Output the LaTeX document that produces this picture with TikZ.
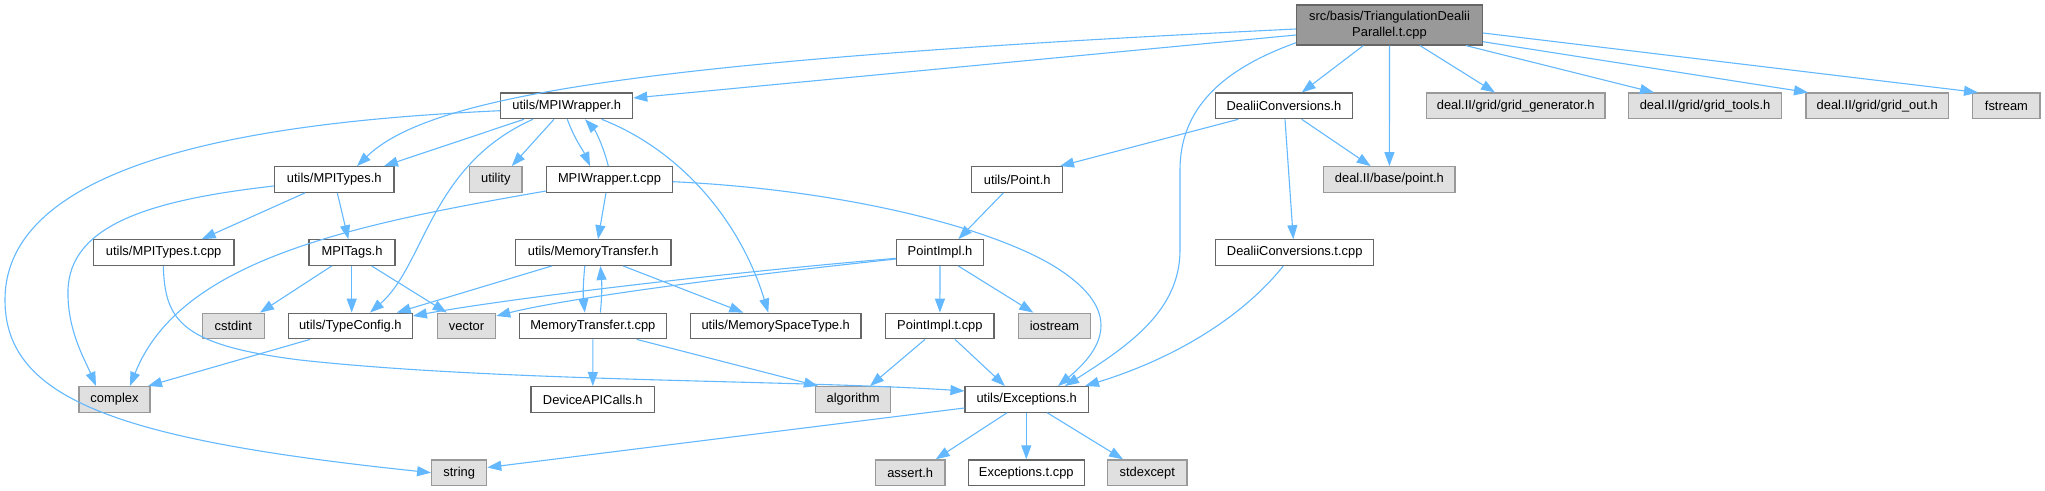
\documentclass[tikz,border=0pt]{standalone}
\usepackage{fontspec}
\setmainfont{Liberation Sans}
\usetikzlibrary{arrows.meta}
\definecolor{edgecol}{HTML}{63B8FF}
\definecolor{boxborder}{HTML}{666666}
\definecolor{extfill}{HTML}{E0E0E0}
\definecolor{extborder}{HTML}{999999}
\definecolor{mainfill}{HTML}{999999}
\begin{document}
\begin{tikzpicture}[x=1bp,y=-1bp,
  box/.style={draw=boxborder, fill=white, line width=1.2bp, minimum height=25.6bp, inner sep=0pt,
    font=\fontsize{12.9bp}{15.5bp}\selectfont},
  ext/.style={box, draw=extborder, fill=extfill},
  dep/.style={draw=edgecol, line width=1.1bp, -{Triangle[length=14bp,width=10bp]}},
]
\useasboundingbox (0,0) rectangle (2045,491);

% nodes
\node[box, fill=mainfill, minimum width=185.6bp, minimum height=40bp, align=center] (main) at (1389.5,25) {src/basis/TriangulationDealii\\Parallel.t.cpp};
\node[box, minimum width=132bp] (W) at (566.7,105.9) {utils/MPIWrapper.h};
\node[box, minimum width=136.6bp] (DC) at (1284,105.9) {DealiiConversions.h};
\node[ext, minimum width=178.7bp] (GG) at (1515.7,105.9) {deal.II/grid/grid\_generator.h};
\node[ext, minimum width=152.5bp] (GT) at (1705,105.9) {deal.II/grid/grid\_tools.h};
\node[ext, minimum width=142.5bp] (GO) at (1877.3,105.9) {deal.II/grid/grid\_out.h};
\node[ext, minimum width=67.3bp] (FS) at (2006.4,105.9) {fstream};
\node[box, minimum width=119.5bp] (Ty) at (334.3,179.5) {utils/MPITypes.h};
\node[ext, minimum width=52.4bp] (UT) at (495.8,179.5) {utility};
\node[box, minimum width=125.6bp] (T) at (609.5,179.5) {MPIWrapper.t.cpp};
\node[box, minimum width=91bp] (Pt) at (1017.2,179.5) {utils/Point.h};
\node[ext, minimum width=131.3bp] (BP) at (1389.4,179.5) {deal.II/base/point.h};
\node[box, minimum width=140.7bp] (TT) at (163.7,252.6) {utils/MPITypes.t.cpp};
\node[box, minimum width=86bp] (Tg) at (352,252.6) {MPITags.h};
\node[box, minimum width=155.3bp] (MT) at (593.3,252.6) {utils/MemoryTransfer.h};
\node[box, minimum width=86.6bp] (PI) at (940,252.6) {PointImpl.h};
\node[box, minimum width=158bp] (DCt) at (1294.7,252.6) {DealiiConversions.t.cpp};
\node[ext, minimum width=62bp] (CS) at (233.3,326) {cstdint};
\node[box, minimum width=124bp] (TC) at (350.3,326) {utils/TypeConfig.h};
\node[ext, minimum width=58.4bp] (VE) at (466.5,326) {vector};
\node[box, minimum width=147.2bp] (MTt) at (592.9,326) {MemoryTransfer.t.cpp};
\node[box, minimum width=170.7bp] (MS) at (775.7,326) {utils/MemorySpaceType.h};
\node[box, minimum width=108.3bp] (PIt) at (939.9,326) {PointImpl.t.cpp};
\node[ext, minimum width=72.4bp] (IO) at (1054.5,326) {iostream};
\node[ext, minimum width=71bp] (CX) at (114.5,399.4) {complex};
\node[box, minimum width=123.5bp] (DA) at (592.8,399.4) {DeviceAPICalls.h};
\node[ext, minimum width=75bp] (AL) at (853.2,399.4) {algorithm};
\node[box, minimum width=123.3bp] (EX) at (1026.7,399.4) {utils/Exceptions.h};
\node[ext, minimum width=55bp] (ST) at (459.2,472.7) {string};
\node[ext, minimum width=69.6bp] (AS) at (910.2,472.7) {assert.h};
\node[box, minimum width=116bp] (ET) at (1026.3,472.7) {Exceptions.t.cpp};
\node[ext, minimum width=79.4bp] (SE) at (1147.3,472.7) {stdexcept};

% main
\draw[dep] (main.west |- 0,35) -- (W.east |- 0,98);
\draw[dep] (main.west |- 0,29) .. controls (650,60) and (430,95) .. (357,0 |- Ty.north);
\draw[dep] (main.west |- 0,42.7) .. controls (1220,70) and (1180,110) .. (1180,170) -- (1180,250) .. controls (1180,310) and (1130,345) .. (1065,0 |- EX.north);
\draw[dep] (1363.3,0 |- main.south) -- (1301.7,0 |- DC.north);
\draw[dep] (main.south) -- (BP.north);
\draw[dep] (1420,0 |- main.south) -- (1495,0 |- GG.north);
\draw[dep] (1466,0 |- main.south) -- (1654,0 |- GT.north);
\draw[dep] (main.east |- 0,41.7) -- (1808,0 |- GO.north);
\draw[dep] (main.east |- 0,33) -- (1978,0 |- FS.north);

% MPIWrapper.h
\draw[dep] (W.west |- 0,110.7) .. controls (300,120) and (5,150) .. (5,300) .. controls (5,400) and (120,440) .. (ST.west);
\draw[dep] (524,0 |- W.south) -- (384,0 |- Ty.north);
\draw[dep] (533,0 |- W.south) .. controls (430,165) and (425,265) .. (370,0 |- TC.north);
\draw[dep] (554,0 |- W.south) -- (511.7,0 |- UT.north);
\draw[dep] (567.3,0 |- W.south) .. controls (575,140) and (583,150) .. (590,0 |- T.north);
\draw[dep] (608.3,0 |- T.north) .. controls (603,145) and (595,130) .. (585,0 |- W.south);
\draw[dep] (601.7,0 |- W.south) .. controls (680,150) and (740,220) .. (768.3,0 |- MS.north);

% MPIWrapper.t.cpp
\draw[dep] (T.west |- 0,191) .. controls (350,225) and (180,260) .. (130,0 |- CX.north);
\draw[dep] (606,0 |- T.south) -- (598,0 |- MT.north);
\draw[dep] (T.east |- 0,181.7) .. controls (850,190) and (1000,230) .. (1060,270) .. controls (1105,300) and (1120,335) .. (1058,0 |- EX.north);

% MPITypes.h
\draw[dep] (Ty.west |- 0,186) .. controls (150,200) and (70,225) .. (68,290) .. controls (67,330) and (85,360) .. (96,0 |- CX.north);
\draw[dep] (305,0 |- Ty.south) -- (201.7,0 |- TT.north);
\draw[dep] (337.3,0 |- Ty.south) -- (348.3,0 |- Tg.north);

% MPITypes.t.cpp
\draw[dep] (163.3,0 |- TT.south) .. controls (165,320) and (180,345) .. (300,360) .. controls (500,382) and (800,380) .. (EX.west |- 0,391);

% MPITags.h
\draw[dep] (331.7,0 |- Tg.south) -- (260,0 |- CS.north);
\draw[dep] (351.7,0 |- Tg.south) -- (351.7,0 |- TC.north);
\draw[dep] (371.7,0 |- Tg.south) -- (446.7,0 |- VE.north);

% MemoryTransfer.h
\draw[dep] (551.7,0 |- MT.south) -- (396.7,0 |- TC.north);
\draw[dep] (584.8,0 |- MT.south) .. controls (583,285) and (583,295) .. (584.8,0 |- MTt.north);
\draw[dep] (600.4,0 |- MTt.north) .. controls (602,295) and (602,285) .. (600.4,0 |- MT.south);
\draw[dep] (623.3,0 |- MT.south) -- (743.3,0 |- MS.north);

% MemoryTransfer.t.cpp
\draw[dep] (MTt.south) -- (DA.north);
\draw[dep] (636.7,0 |- MTt.south) -- (818,0 |- AL.north);

% TypeConfig.h
\draw[dep] (310,0 |- TC.south) -- (148,0 |- CX.north);

% DealiiConversions.h
\draw[dep] (1238.3,0 |- DC.south) -- (1060,0 |- Pt.north);
\draw[dep] (1301.7,0 |- DC.south) -- (1370.7,0 |- BP.north);
\draw[dep] (1285,0 |- DC.south) -- (1293.3,0 |- DCt.north);

% DealiiConversions.t.cpp
\draw[dep] (1283.3,0 |- DCt.south) .. controls (1240,320) and (1170,360) .. (1085,0 |- EX.north);

% Point.h
\draw[dep] (1003.3,0 |- Pt.south) -- (958.3,0 |- PI.north);

% PointImpl.h
\draw[dep] (PI.west |- 0,258.3) .. controls (700,275) and (500,300) .. (TC.east |- 0,316);
\draw[dep] (PI.west |- 0,259) .. controls (700,280) and (560,300) .. (VE.east |- 0,316);
\draw[dep] (PI.south) -- (PIt.north);
\draw[dep] (958.3,0 |- PI.south) -- (1033.3,0 |- IO.north);

% PointImpl.t.cpp
\draw[dep] (925,0 |- PIt.south) -- (870,0 |- AL.north);
\draw[dep] (955,0 |- PIt.south) -- (1005,0 |- EX.north);

% Exceptions.h
\draw[dep] (EX.west |- 0,408) -- (ST.east |- 0,467.5);
\draw[dep] (1007,0 |- EX.south) -- (935.7,0 |- AS.north);
\draw[dep] (1026.3,0 |- EX.south) -- (1026.3,0 |- ET.north);
\draw[dep] (1047.3,0 |- EX.south) -- (1123,0 |- SE.north);
\end{tikzpicture}
\end{document}
